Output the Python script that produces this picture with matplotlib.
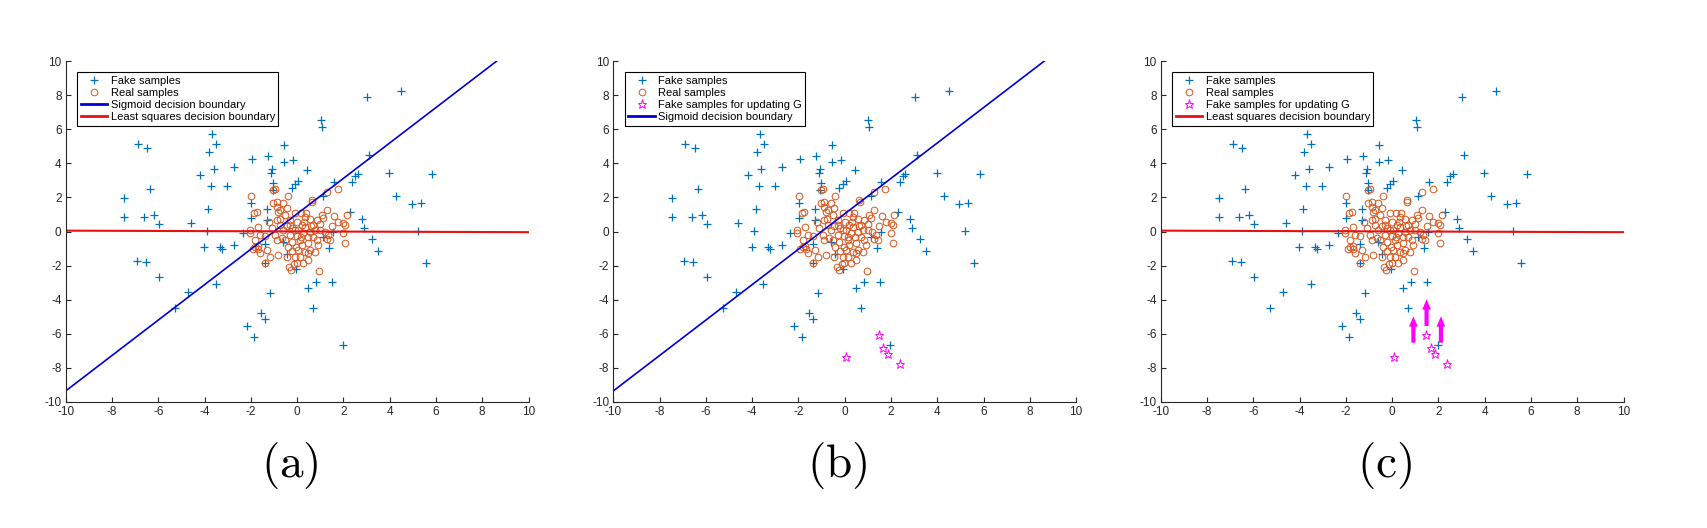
import numpy as np
import matplotlib
matplotlib.use('Agg')
import matplotlib.pyplot as plt

plt.rcParams['font.family'] = ['Liberation Sans', 'DejaVu Sans']
plt.rcParams['mathtext.fontset'] = 'cm'
plt.rcParams['axes.unicode_minus'] = False

# generated (fake) samples
fake_x = [4.49, 3.03, 1.02, 1.06, -6.89, -6.47, -3.68, -3.49, -3.81, -0.55, -1.26, -1.93, -0.55, -0.16,
          -1.08, -1.11, -3.61, -4.2, -2.71, 0.44, -6.34, -3.72, -3.02, -1.03, -0.24, -0.08, 0.05, 1.58,
          2.37, 2.5, 2.62, 3.97, 5.84, 3.11, 4.29, 4.96, 5.34, -7.48, -7.48, -6.6, -6.17, -5.95, -4.59,
          -3.84, -3.91, -1.98, -1.98, -1.29, -1.29, -2.35, 1.13, 2.29, 2.82, 2.91, 5.21, 3.25, 3.51, 5.57,
          -4.02, -3.32, -3.23, -2.73, -6.93, -6.54, -5.95, -4.7, -3.52, -5.28, -1.17, -2.17, -1.85, -1.56,
          -1.37, 0.47, 0.83, 1.52, 0.7, 1.97, -1.37, -0.42, -0.06, 1.39, 1.13, 1.57, -1.37, -0.6, -1.05]
fake_y = [8.24, 7.89, 6.54, 6.15, 5.11, 4.88, 5.7, 5.11, 4.68, 5.05, 4.41, 4.25, 4.06, 4.17,
          3.65, 3.43, 3.65, 3.31, 3.76, 3.59, 2.49, 2.67, 2.67, 2.83, 2.57, 2.81, 2.94, 2.92,
          2.88, 3.24, 3.35, 3.41, 3.35, 4.51, 2.08, 1.63, 1.67, 1.97, 0.87, 0.87, 0.99, 0.44, 0.5,
          1.3, 0.05, 1.65, 0.77, 1.32, 0.67, -0.11, 2.1, 1.14, 0.71, 0.19, 0.01, -0.42, -1.14, -1.87,
          -0.89, -0.89, -1.03, -0.77, -1.71, -1.81, -2.65, -3.57, -3.1, -4.51, -3.63, -5.54, -6.21, -4.76,
          -5.15, -3.29, -2.98, -2.98, -4.51, -6.68, -1.83, -1.32, -2.18, -0.95, -0.34, -0.05, -0.75, -0.64, 2.45]

# real samples
real_x = [-1.99, -1.03, -0.95, -0.41, -1.03, -0.88, -1.85, -1.75, -0.81, -0.52, -0.09, -0.88, -0.74, -1.1,
          -1.7, -2.04, -1.6, -1.39, -1.82, -1.7, -0.95, -0.88, -0.67, -0.52, -0.31, -0.23, -0.09, -0.02,
          -1.82, -1.6, -1.17, -0.81, -0.45, -0.09, -0.05, -0.35, -0.26, -0.12, -1.39, -0.74, -0.6, -0.88,
          -0.31,
          1.28, 1.75, 0.63, 0.17, 0.34, 0.56, 0.7, 0.85, 1.06, 1.13, 1.28, 1.61, 1.78, 1.98, 2.07, 2.14,
          0.2, 0.34, 0.05, 0.27, 0.56, 0.77, 0.99, 1.2, 1.35, 1.98, 0.7, 0.85, 1.28, 1.42, 0.13, 0.2,
          0.49, 2.07, 0.05, 0.34, 0.56, 0.77, 0.13, 0.49, 0.49, -0.02, 0.95, 0.27,
          0.66, -2.04, -1.92, -1.69, -1.28,
          -0.6, -0.3, 0.0, 0.3, 0.45, -0.4, 0.6, -0.75, 0.15, -0.2, -0.45, 0.9, -1.2, 1.0, -0.2, 0.4,
          -0.45, 1.5]
real_y = [2.1, 2.43, 2.47, 2.08, 1.65, 1.46, 1.1, 1.16, 1.16, 0.97, 1.07, 0.67, 0.38, 0.19,
          0.28, -0.11, -0.21, -0.26, -0.5, -0.85, -0.21, -0.5, -0.4, -0.5, -0.21, -0.6, 0.09, -0.26,
          -0.93, -1.28, -1.48, -1.38, -1.48, -1.48, -0.89, -2.06, -2.26, -1.9, -1.83, 1.26, 1.65, 1.75,
          0.67,
          2.34, 2.47, 1.85, 1.11, 0.87, 0.71, 0.38, 0.67, 0.97, 0.77, 1.26, 0.91, 0.58, 0.48, 0.38, 0.97,
          0.38, 0.28, 0.09, -0.07, -0.01, 0.09, 0.09, -0.01, -0.2, -0.07, -0.34, -0.5, -0.46, -0.5, -0.5, -0.79,
          -0.69, -0.65, -1.09, -1.18, -1.09, -1.18, -1.48, -1.28, -1.67, -1.87, -2.3, -1.87,
          1.71, 0.09, -1.05, -1.05, -1.1,
          0.1, 0.4, 0.55, 0.55, -0.3, -0.9, 0.35, 0.75, -0.35, 0.2, 0.3, -0.8, 0.55, 0.45, -1.15, 1.1,
          1.4, 0.3]

# fake samples used for updating G
upd_x = [0.07, 1.47, 1.67, 1.86, 2.38]
upd_y = [-7.34, -6.09, -6.81, -7.18, -7.75]

# decision boundaries
sig_x = [-10, 8.63]
sig_y = [-9.35, 10]
lsq_x = [-10, 10]
lsq_y = [0.05, -0.04]

# arrows in panel (c)
arrow_x = [0.92, 1.49, 2.11]
arrow_y0 = [-6.52, -5.54, -6.52]
arrow_y1 = [-4.98, -3.98, -4.98]

panels = ['(a)', '(b)', '(c)']
show_upd = [False, True, True]
show_sig = [True, True, False]
show_lsq = [True, False, True]
show_arrows = [False, False, True]

blue = '#0072BD'
orange = '#D95319'

W, H = 1707, 528
fig = plt.figure(figsize=(W / 100, H / 100), dpi=100)

lefts = [65.7, 613.3, 1160.7]
for i, name in enumerate(panels):
    ax = fig.add_axes([lefts[i] / W, 126 / H, 462.8 / W, 341 / H])
    ax.plot(fake_x, fake_y, '+', color=blue, ms=6, mew=0.9, label='Fake samples')
    ax.plot(real_x, real_y, 'o', mfc='none', mec=orange, ms=4.8, mew=0.7, label='Real samples')
    if show_upd[i]:
        ax.plot(upd_x, upd_y, '*', mfc='none', mec='#FF00FF', ms=6.5, mew=0.7,
                label='Fake samples for updating G')
    if show_sig[i]:
        ax.plot(sig_x, sig_y, '-', color='#0000D8', lw=1.2, label='Sigmoid decision boundary')
    if show_lsq[i]:
        ax.plot(lsq_x, lsq_y, '-', color='#E81010', lw=1.5, label='Least squares decision boundary')
    if show_arrows[i]:
        for x, y0, y1 in zip(arrow_x, arrow_y0, arrow_y1):
            ax.arrow(x, y0, 0, y1 - y0, width=0.18, head_width=0.38, head_length=0.6,
                     length_includes_head=True, color='#FF00FF', lw=0)

    ax.set_xlim(-10, 10)
    ax.set_ylim(-10, 10)
    ax.set_xticks(np.arange(-10, 11, 2))
    ax.set_yticks(np.arange(-10, 11, 2))
    ax.spines['top'].set_visible(False)
    ax.spines['right'].set_visible(False)
    for s in ['left', 'bottom']:
        ax.spines[s].set_color('#262626')
        ax.spines[s].set_linewidth(0.8)
    ax.tick_params(direction='in', length=3.8, width=0.8, color='#262626',
                   labelsize=8.5, labelcolor='#262626', pad=3)

    leg = ax.legend(loc='upper left', bbox_to_anchor=(0.025, 0.967), borderaxespad=0,
                    fontsize=8, fancybox=False, framealpha=1, edgecolor='black',
                    borderpad=0.3, labelspacing=0.2, handlelength=2.4, handletextpad=0.3)
    leg.get_frame().set_linewidth(0.8)
    for h in leg.get_lines():
        if h.get_linestyle() == '-':
            h.set_linewidth(2)

    fig.text((lefts[i] + 224.3) / W, (H - 465.7) / H, r'$\mathrm{' + name + '}$',
             fontsize=34, ha='center', va='center')

fig.savefig('out.png', dpi=100)
